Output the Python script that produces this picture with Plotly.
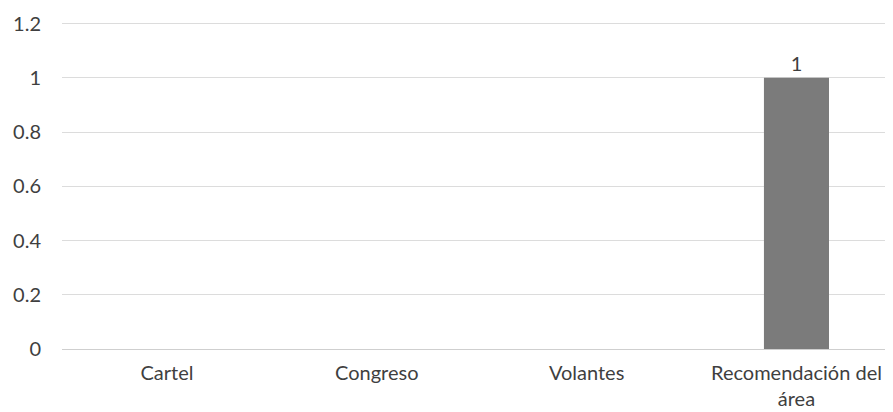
import plotly.graph_objects as go

categories = ["Cartel", "Congreso", "Volantes", "Recomendación del<br>área"]
values = [0, 0, 0, 1]
y_ticks = [0, 0.2, 0.4, 0.6, 0.8, 1, 1.2]
y_tick_labels = ["0", "0.2", "0.4", "0.6", "0.8", "1", "1.2"]
bar_labels = ["", "", "", "1"]

fig = go.Figure(
    go.Bar(
        x=categories,
        y=values,
        text=bar_labels,
        textposition="outside",
        cliponaxis=False,
        textfont=dict(size=20, color="#3f3f3f"),
        marker=dict(color="#7b7b7b", line=dict(width=0)),
        width=0.31,
    )
)

fig.update_layout(
    width=885,
    height=404,
    margin=dict(l=54, r=0, t=14, b=63),
    paper_bgcolor="white",
    plot_bgcolor="white",
    font=dict(family="Lato, 'Open Sans', sans-serif", size=20, color="#3f3f3f"),
    showlegend=False,
    xaxis=dict(
        range=[-0.5, 3.46],
        showgrid=False,
        showline=False,
        zeroline=False,
        ticks="",
        tickfont=dict(size=20, color="#3f3f3f"),
        ticklabelstandoff=10,
    ),
    yaxis=dict(
        range=[0, 1.206],
        tickvals=y_ticks,
        ticktext=y_tick_labels,
        showgrid=True,
        gridcolor="#dcdcdc",
        gridwidth=1,
        zeroline=True,
        zerolinecolor="#cfcfcf",
        zerolinewidth=1,
        showline=False,
        ticks="",
        tickfont=dict(size=20, color="#3f3f3f"),
        ticklabelstandoff=20,
    ),
)

fig.write_html("out.html")
